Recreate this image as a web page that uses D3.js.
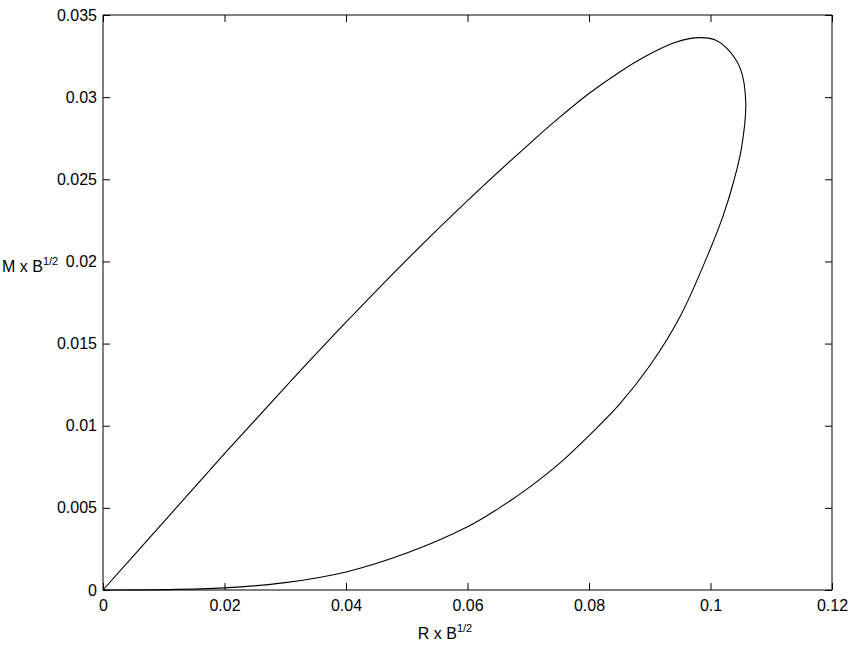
<!DOCTYPE html>
<html>
<head>
<meta charset="utf-8">
<script src="https://cdn.jsdelivr.net/npm/d3@7"></script>
<style>
  body { margin: 0; background: #fff; }
  svg { display: block; }
  text { font-family: "Liberation Sans", Arial, Helvetica, sans-serif; fill: #000; }
</style>
</head>
<body>
<svg id="chart" width="854" height="648"></svg>
<script>
// Data: closed loop (R x B^1/2, M x B^1/2), upper branch, turn, then lower branch back to origin
const rValues = [0, 0.01, 0.02, 0.03, 0.04, 0.05, 0.06, 0.07, 0.075, 0.08, 0.085, 0.09, 0.094, 0.0965, 0.0985, 0.1008, 0.1027, 0.1049, 0.1058, 0.1051, 0.1038, 0.1021, 0.0999, 0.095, 0.09, 0.085, 0.08, 0.075, 0.07, 0.065, 0.06, 0.05, 0.04, 0.03, 0.02, 0.01, 0];
const mValues = [0, 0.00415, 0.0083, 0.01235, 0.0163, 0.0201, 0.0237, 0.0271, 0.02872, 0.03022, 0.03152, 0.03262, 0.03331, 0.03356, 0.03362, 0.03348, 0.03297, 0.03175, 0.0297, 0.0269, 0.02485, 0.0228, 0.0207, 0.01665, 0.01365, 0.0113, 0.0094, 0.00766, 0.0062, 0.00494, 0.00385, 0.00225, 0.0011, 0.00045, 0.00013, 0.00002, 0];
const xTicks = [0, 0.02, 0.04, 0.06, 0.08, 0.1, 0.12];
const yTicks = [0, 0.005, 0.01, 0.015, 0.02, 0.025, 0.03, 0.035];
const xTickLabels = ["0", "0.02", "0.04", "0.06", "0.08", "0.1", "0.12"];
const yTickLabels = ["0", "0.005", "0.01", "0.015", "0.02", "0.025", "0.03", "0.035"];

const pLeft = 103, pRight = 832, pTop = 15, pBottom = 590;
const svg = d3.select("#chart");
const x = d3.scaleLinear().domain([0, 0.12]).range([pLeft, pRight]);
const y = d3.scaleLinear().domain([0, 0.035]).range([pBottom, pTop]);
const tickLen = 7;
const fs = 16;

// Curve
const pts = rValues.map((r, i) => [r, mValues[i]]);
const line = d3.line().x(d => x(d[0])).y(d => y(d[1])).curve(d3.curveCatmullRom.alpha(0.5));
svg.append("path").attr("d", line(pts)).attr("fill", "none").attr("stroke", "#000").attr("stroke-width", 1.1);

// Axes (bottom, left, top, right) with inward ticks
const axB = d3.axisBottom(x).tickValues(xTicks).tickSize(-tickLen).tickPadding(10).tickFormat((d, i) => xTickLabels[i]);
const axL = d3.axisLeft(y).tickValues(yTicks).tickSize(-tickLen).tickPadding(6).tickFormat((d, i) => yTickLabels[i]);
const axT = d3.axisTop(x).tickValues(xTicks).tickSize(-tickLen).tickFormat("");
const axR = d3.axisRight(y).tickValues(yTicks).tickSize(-tickLen).tickFormat("");

function style(g) {
  g.selectAll("path.domain").attr("stroke", "#000").attr("stroke-width", 1);
  g.selectAll(".tick line").attr("stroke", "#000").attr("stroke-width", 1);
  g.selectAll(".tick text").style("font-size", fs + "px").style("font-family", '"Liberation Sans", Arial, sans-serif').attr("fill", "#000");
}
svg.append("g").attr("transform", `translate(0,${pBottom})`).call(axB).call(style).call(g => g.selectAll("path.domain").attr("d", `M${pLeft},0H${pRight}`));
svg.append("g").attr("transform", `translate(${pLeft},0)`).call(axL).call(style).call(g => g.selectAll("path.domain").attr("d", `M0,${pBottom}V${pTop}`));
svg.append("g").attr("transform", `translate(0,${pTop})`).call(axT).call(style).call(g => g.selectAll("path.domain").attr("d", `M${pLeft},0H${pRight}`));
svg.append("g").attr("transform", `translate(${pRight},0)`).call(axR).call(style).call(g => g.selectAll("path.domain").attr("d", `M0,${pBottom}V${pTop}`));

// Axis labels
const xl = svg.append("text").attr("x", 445).attr("y", 639).attr("text-anchor", "middle").style("font-size", fs + "px");
xl.append("tspan").text("R x B");
xl.append("tspan").attr("dy", -7).style("font-size", "11px").text("1/2");

const yl = svg.append("text").attr("x", 2).attr("y", 272).attr("text-anchor", "start").style("font-size", fs + "px");
yl.append("tspan").text("M x B");
yl.append("tspan").attr("dy", -7).style("font-size", "11px").text("1/2");
</script>
</body>
</html>
